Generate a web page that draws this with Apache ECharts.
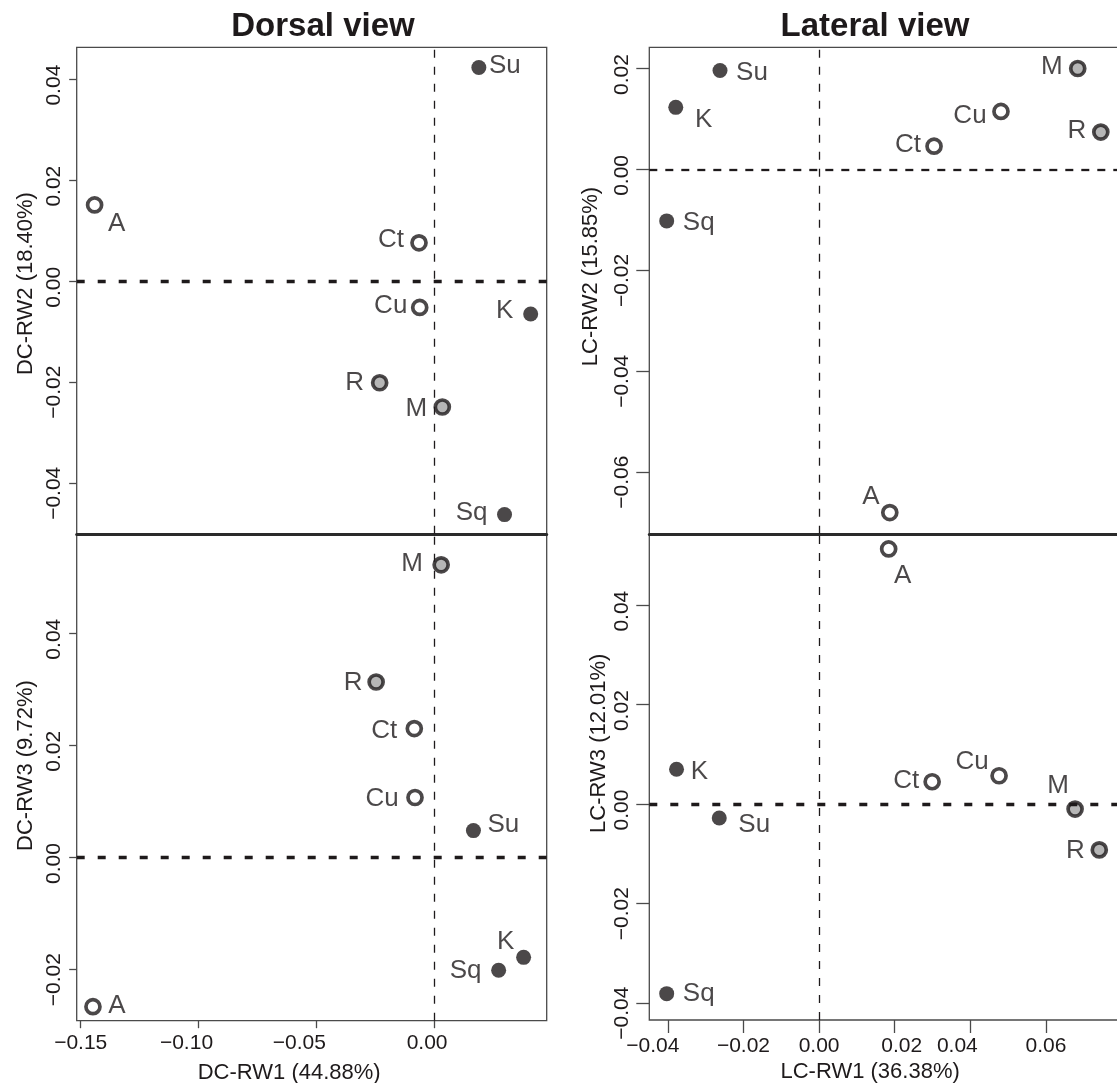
<!DOCTYPE html>
<html>
<head>
<meta charset="utf-8">
<script src="https://cdn.jsdelivr.net/npm/echarts@6/dist/echarts.min.js"></script>
<style>
  html, body { margin: 0; padding: 0; background: #ffffff; overflow: hidden; }
  #chart { width: 1117px; height: 1083px; }
</style>
</head>
<body>
<div id="chart"></div>
<script>
// Taxa and their marker group (open / grey / black)
const taxa   = ['A', 'Ct', 'Cu', 'M', 'R', 'Su', 'K', 'Sq'];
const groups = ['open', 'open', 'open', 'grey', 'grey', 'black', 'black', 'black'];

// Dorsal view: RW1 vs RW2 (upper panel) and RW1 vs RW3 (lower panel)
const dorsalRW1_upper = [-0.1441, -0.0064, -0.0061, 0.0035, -0.0231, 0.0190, 0.0410, 0.0299];
const dorsalRW2       = [ 0.0151,  0.0076, -0.0052, -0.0249, -0.0201, 0.0423, -0.0065, -0.0462];
const dorsalRW1_lower = [-0.1448, -0.0084, -0.0081, 0.0030, -0.0246, 0.0167, 0.0380, 0.0274];
const dorsalRW3       = [-0.0266,  0.0230,  0.0107, 0.0522,  0.0313, 0.0048, -0.0178, -0.0201];

// Lateral view: RW1 vs RW2 (upper panel) and RW1 vs RW3 (lower panel)
const lateralRW1_upper = [0.0187, 0.0304, 0.0481, 0.0684, 0.0745, -0.0262, -0.0379, -0.0403];
const lateralRW2       = [-0.0680, 0.0046, 0.0115, 0.0200, 0.0074, 0.0196, 0.0123, -0.0102];
const lateralRW1_lower = [0.0184, 0.0299, 0.0476, 0.0677, 0.0741, -0.0264, -0.0377, -0.0403];
const lateralRW3       = [0.0513, 0.0045, 0.0057, -0.0010, -0.0092, -0.0028, 0.0070, -0.0381];

// Tick values
const dorsalXTicks   = [-0.15, -0.10, -0.05, 0.00];
const dorsalY2Ticks  = [-0.04, -0.02, 0.00, 0.02, 0.04];
const dorsalY3Ticks  = [-0.02, 0.00, 0.02, 0.04];
const lateralXTicks  = [-0.04, -0.02, 0.00, 0.02, 0.04, 0.06];
const lateralY2Ticks = [-0.06, -0.04, -0.02, 0.00, 0.02];
const lateralY3Ticks = [-0.04, -0.02, 0.00, 0.02, 0.04];

// Axis titles
const panelTitles = ['Dorsal view', 'Lateral view'];
const xTitles = ['DC-RW1 (44.88%)', 'LC-RW1 (36.38%)'];
const yTitles = ['DC-RW2 (18.40%)', 'DC-RW3 (9.72%)', 'LC-RW2 (15.85%)', 'LC-RW3 (12.01%)'];

// ---- presentation ----
const INK = '#1e1a1b';
const FRAME = '#4a4a4a';
const FONT = '"Liberation Sans", Arial, Helvetica, sans-serif';

// label offsets (px, from marker centre to label centre) for each panel
const labelOffsets = [
  { A: [22, 19], Ct: [-28, -3], Cu: [-29, -2], M: [-26, 2], R: [-25, 0], Su: [26, -2], K: [-26, -3], Sq: [-33, -2] },
  { A: [24, -1], Ct: [-30, 2], Cu: [-33, 1], M: [-29, -1], R: [-23, 1], Su: [30, -6], K: [-18, -16], Sq: [-33, 1] },
  { A: [-19, -16], Ct: [-26, -1], Cu: [-31, 4], M: [-26, -2], R: [-24, -1], Su: [32, 2], K: [28, 12], Sq: [32, 2] },
  { A: [14, 27], Ct: [-26, -1], Cu: [-27, -14], M: [-17, -23], R: [-24, 1], Su: [35, 7], K: [23, 3], Sq: [32, 0] }
];

const markerStyles = {
  open:  { symbolSize: 14, itemStyle: { color: '#ffffff', borderColor: INK, borderWidth: 3.7 } },
  grey:  { symbolSize: 14, itemStyle: { color: '#a4a4a4', borderColor: INK, borderWidth: 3.7 } },
  black: { symbolSize: 15, itemStyle: { color: INK, borderWidth: 0 } }
};

function fmt(v) {
  return (v < 0 ? '\u2212' : '') + Math.abs(v).toFixed(2);
}

// plotting regions (the lateral panels run past the right edge of the page)
const grids = [
  { left: 76.7, top: 47.3, width: 470, height: 486.5 },
  { left: 76.7, top: 534.5, width: 470, height: 486.2 },
  { left: 649.3, top: 47.3, width: 475.7, height: 486.5 },
  { left: 649.3, top: 534.5, width: 475.7, height: 485.5 }
];

const xRanges = [[-0.1517, 0.0478], [-0.1517, 0.0478], [-0.0449, 0.0809], [-0.0449, 0.0809]];
const yRanges = [[-0.0500, 0.0463], [-0.0291, 0.0576], [-0.0722, 0.0242], [-0.0434, 0.0542]];
const yTicks = [dorsalY2Ticks, dorsalY3Ticks, lateralY2Ticks, lateralY3Ticks];
const xTicks = [dorsalXTicks, dorsalXTicks, lateralXTicks, lateralXTicks];
const xs = [dorsalRW1_upper, dorsalRW1_lower, lateralRW1_upper, lateralRW1_lower];
const ys = [dorsalRW2, dorsalRW3, lateralRW2, lateralRW3];

const tickLen = [7.5, 7.5, 13, 13];
const yNameGap = [40, 40, 47, 37];
const yNameShift = [14, 24, 28, 68];   // left padding (rotated) moves the title upward
const yLabelMargin = [12, 12, 17, 17];

// small per-label nudges of the x tick labels (px)
const dorsalXLabelShift  = { '-0.10': -12, '-0.05': -17, '0.00': -7 };
const lateralXLabelShift = { '-0.04': -15, '0.02': 7, '0.04': -13 };

function shiftedLabel(v, shifts) {
  const s = shifts[v.toFixed(2)] || 0;
  if (s > 0) return '{r' + s + '|' + fmt(v) + '}';
  if (s < 0) return '{l' + (-s) + '|' + fmt(v) + '}';
  return '{c|' + fmt(v) + '}';
}

function xRich(shifts) {
  const base = { fontSize: 21, fontFamily: FONT, color: INK };
  const rich = { c: Object.assign({}, base) };
  Object.values(shifts).forEach(s => {
    if (s > 0) rich['r' + s] = Object.assign({ padding: [0, 0, 0, 2 * s] }, base);
    else rich['l' + (-s)] = Object.assign({ padding: [0, -2 * s, 0, 0] }, base);
  });
  return rich;
}

const xAxes = grids.map((g, i) => {
  const showBottom = (i === 1 || i === 3);
  const lateral = i >= 2;
  const shifts = lateral ? lateralXLabelShift : dorsalXLabelShift;
  return {
    type: 'value', gridIndex: i, position: 'bottom',
    min: xRanges[i][0], max: xRanges[i][1],
    // the upper panels' bottom edge forms the heavy divider between panels
    axisLine: { show: !showBottom, onZero: false, lineStyle: { color: '#2a2a2a', width: 3 } },
    splitLine: { show: false },
    axisTick: {
      show: showBottom, customValues: xTicks[i], length: tickLen[i],
      lineStyle: { color: FRAME, width: 1.3 }
    },
    axisLabel: {
      show: showBottom, customValues: xTicks[i], margin: lateral ? 16 : 12,
      formatter: v => shiftedLabel(v, shifts),
      rich: xRich(shifts)
    },
    name: showBottom ? xTitles[lateral ? 1 : 0] : '',
    nameLocation: 'middle',
    nameGap: 41,
    nameTextStyle: {
      fontSize: 22, fontFamily: FONT, color: INK,
      padding: lateral ? [0, 34, 0, 0] : [0, 45, 0, 0]
    }
  };
});

const yAxes = grids.map((g, i) => ({
  type: 'value', gridIndex: i, position: 'left',
  min: yRanges[i][0], max: yRanges[i][1],
  axisLine: { show: false, onZero: false },
  splitLine: { show: false },
  axisTick: {
    show: true, customValues: yTicks[i], length: tickLen[i],
    lineStyle: { color: FRAME, width: 1.3 }
  },
  axisLabel: {
    show: true, customValues: yTicks[i], rotate: 90, margin: yLabelMargin[i],
    formatter: v => (v < 0 ? '{n|' : '{p|') + fmt(v) + '}',
    rich: {
      p: { fontSize: 21, fontFamily: FONT, color: INK, padding: [0, 12, 0, 0] },
      n: { fontSize: 21, fontFamily: FONT, color: INK, padding: [0, 20, 0, 0] }
    }
  },
  name: yTitles[i],
  nameLocation: 'middle',
  nameGap: yNameGap[i],
  nameTextStyle: {
    fontSize: 22, fontFamily: FONT, color: INK,
    padding: [0, 0, 0, yNameShift[i]]
  }
}));

const series = [];
grids.forEach((g, p) => {
  // zero reference lines
  const hDash = p === 2 ? { width: 2.3, type: [8, 8] } : { width: 3.4, type: [8, 13] };
  series.push({
    type: 'scatter', xAxisIndex: p, yAxisIndex: p, data: [], z: 1, silent: true,
    markLine: {
      silent: true, symbol: 'none', animation: false,
      label: { show: false },
      data: [
        { xAxis: 0, lineStyle: { color: INK, width: 1.3, type: [8, 9] } },
        { yAxis: 0, lineStyle: { color: INK, width: hDash.width, type: hDash.type } }
      ]
    }
  });
  ['open', 'grey', 'black'].forEach(grp => {
    const data = [];
    taxa.forEach((t, k) => {
      if (groups[k] !== grp) return;
      data.push({
        name: t,
        value: [xs[p][k], ys[p][k]],
        label: { offset: labelOffsets[p][t] }
      });
    });
    series.push({
      type: 'scatter', xAxisIndex: p, yAxisIndex: p, z: 3,
      symbol: 'circle',
      symbolSize: markerStyles[grp].symbolSize,
      itemStyle: markerStyles[grp].itemStyle,
      label: {
        show: true, position: 'inside', formatter: '{b}',
        fontSize: 26, fontFamily: FONT, color: INK,
        align: 'center', verticalAlign: 'middle'
      },
      emphasis: { disabled: true },
      data: data
    });
  });
});

const chart = echarts.init(document.getElementById('chart'), null, { renderer: 'canvas' });
chart.setOption({
  backgroundColor: '#ffffff',
  animation: false,
  title: [
    { text: panelTitles[0], left: 318, top: 5, textAlign: 'center',
      textStyle: { fontSize: 33, fontWeight: 'bold', fontFamily: FONT, color: INK } },
    { text: panelTitles[1], left: 870, top: 5, textAlign: 'center',
      textStyle: { fontSize: 33, fontWeight: 'bold', fontFamily: FONT, color: INK } }
  ],
  grid: grids.map(g => Object.assign({
    show: true, borderColor: FRAME, borderWidth: 1.3,
    backgroundColor: 'transparent', outerBoundsMode: 'none', containLabel: false
  }, g)),
  xAxis: xAxes,
  yAxis: yAxes,
  series: series
});
</script>
</body>
</html>
